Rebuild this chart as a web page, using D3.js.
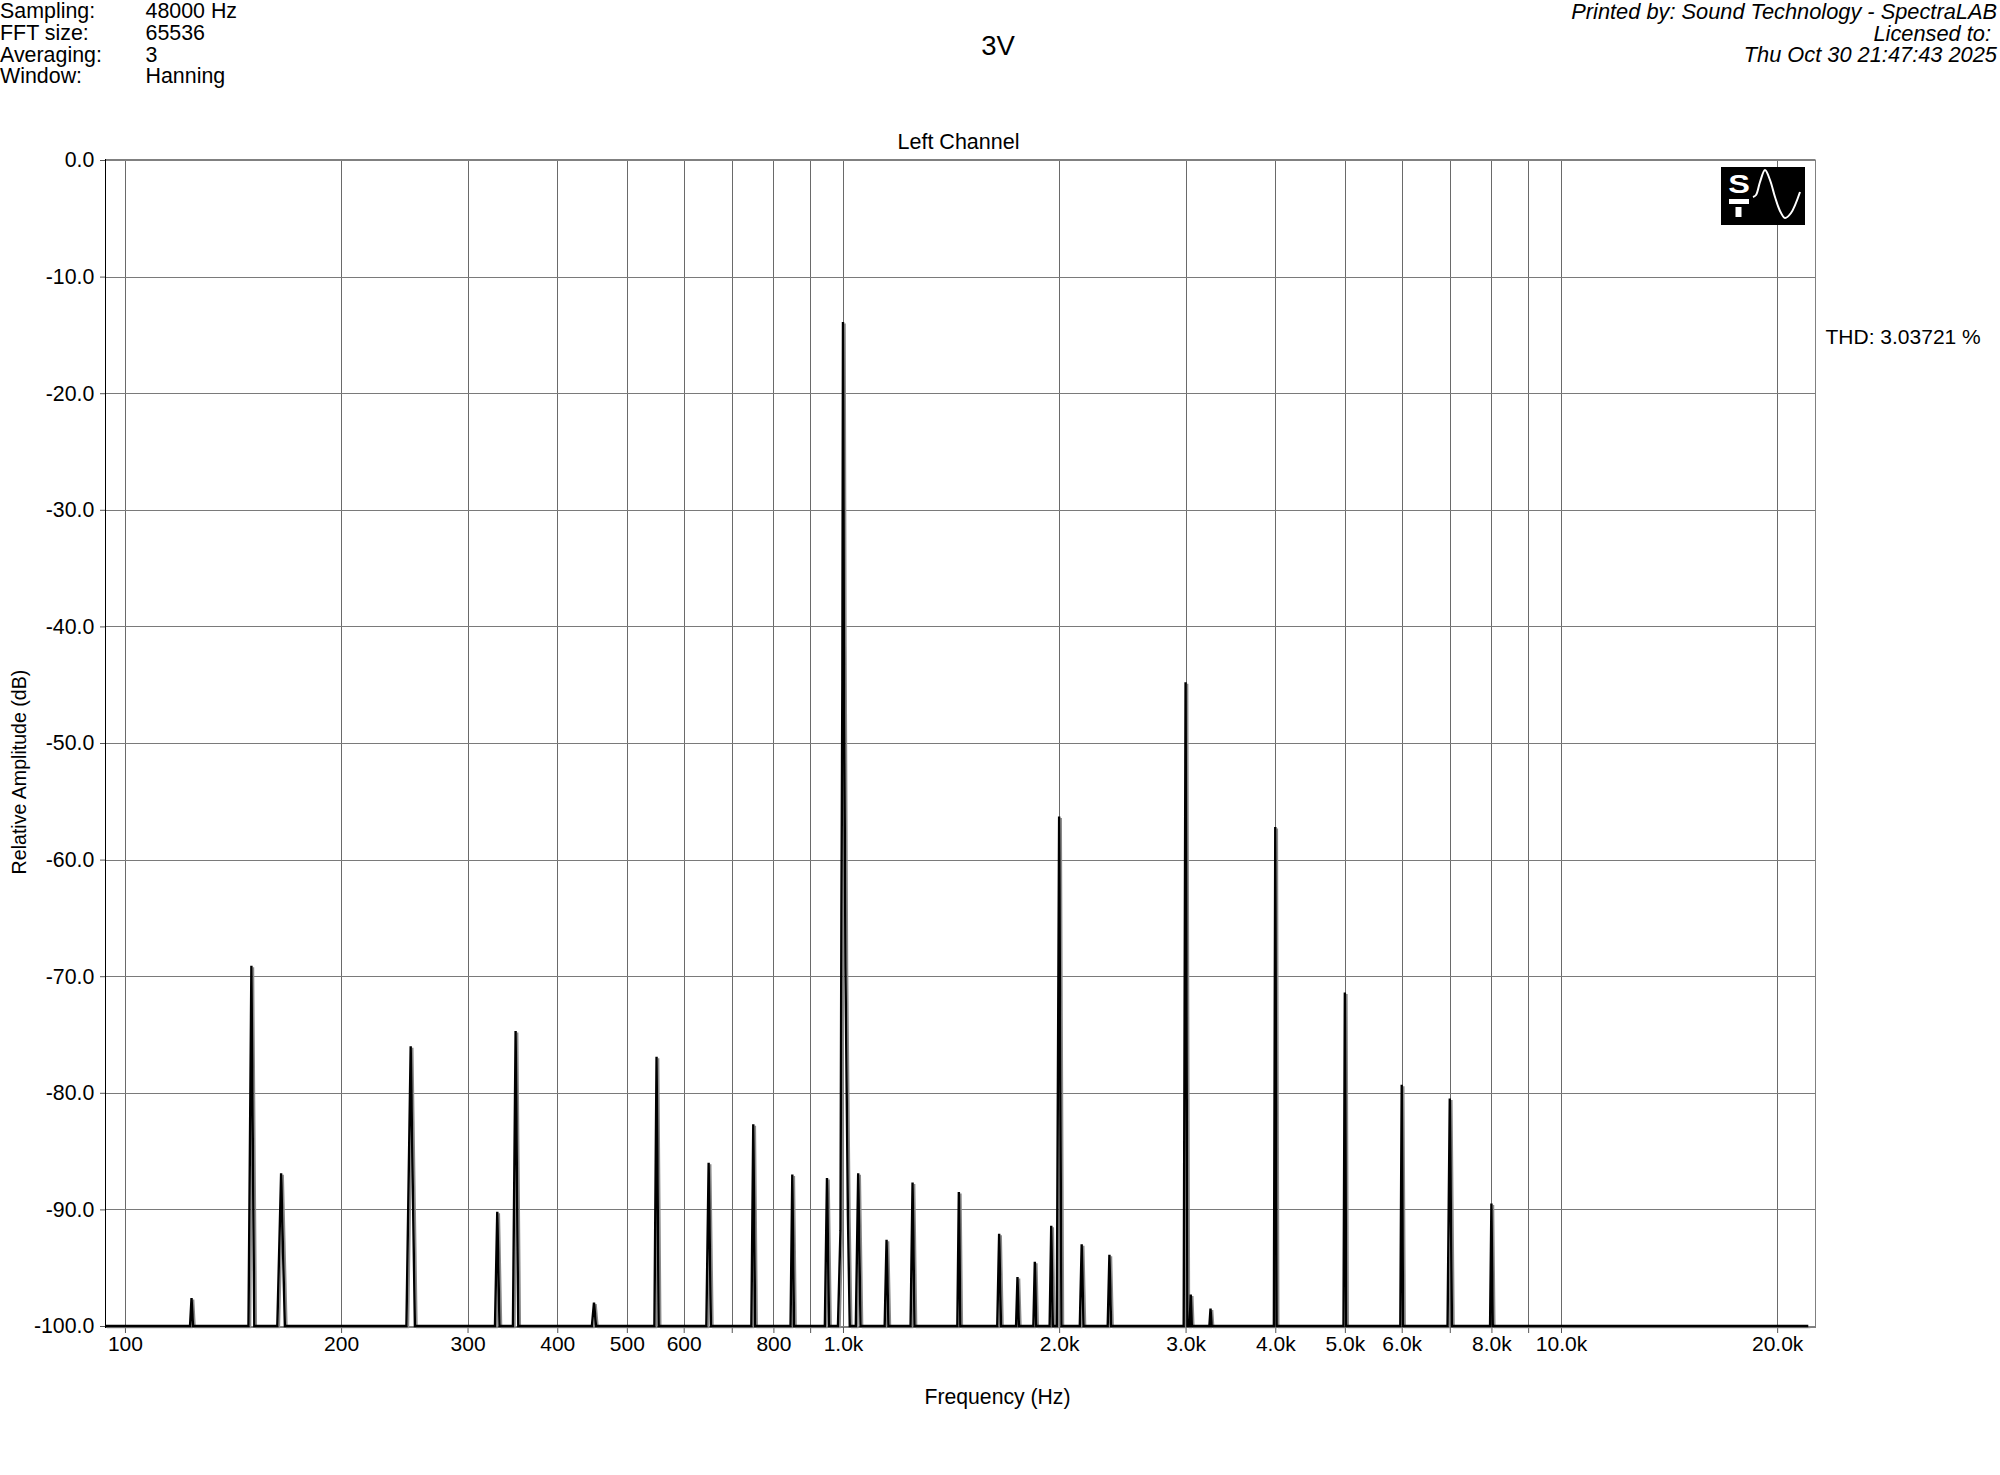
<!DOCTYPE html>
<html>
<head>
<meta charset="utf-8">
<script src="https://cdn.jsdelivr.net/npm/d3@7"></script>
<style>
  html, body { margin: 0; padding: 0; background: #fff; }
  svg { display: block; font-family: "Liberation Sans", Arial, sans-serif; }
</style>
</head>
<body>
<svg id="chart" width="2000" height="1475"></svg>
<script>
// ----------------------
// data
// ----------------------
const infoLabels = ["Sampling:", "FFT size:", "Averaging:", "Window:"];
const infoValues = ["48000 Hz", "65536", "3", "Hanning"];
const printedLines = ["Printed by: Sound Technology - SpectraLAB", "Licensed to:", "Thu Oct 30 21:47:43 2025"];

// spurs / harmonics: centre frequency (Hz), level (dB), half width of the skirt (Hz)
const peakHz        = [123.8, 150, 165, 250, 330, 350, 450, 550, 650, 750, 850, 950,
                       1050, 1150, 1250, 1450, 1650, 1750, 1850, 1950, 2000, 2150, 2350,
                       3000, 3050, 3250, 4000, 5000, 6000, 7000, 8000];
const peakDb        = [-97.6, -69.1, -86.9, -76.0, -90.2, -74.7, -98.0, -76.9, -86.0, -82.7, -87.0, -87.3,
                       -86.9, -92.6, -87.7, -88.5, -92.1, -95.8, -94.5, -91.4, -56.3, -93.0, -93.9,
                       -44.8, -97.3, -98.5, -57.2, -71.4, -79.3, -80.5, -89.5];
const peakHalfWidth = [0.6, 1.4, 2.0, 3.4, 2.4, 3.0, 3.0, 3.8, 4.8, 4.6, 4.8, 6.5,
                       8, 7, 8, 7, 10, 8, 8.5, 10, 15, 13, 13,
                       18, 11, 12, 18, 22, 27, 50, 35];

// fundamental 1 kHz with its window skirt
const fundHz = [984, 992, 995, 998, 1000, 1003, 1008, 1012, 1016, 1022];
const fundDb = [-100, -91.8, -64.8, -44.7, -13.9, -41.6, -69.3, -80.0, -90.6, -100];

const floorDb = -100;
const traceStartHz = 93.8;
const traceEndHz = 22100;

// axes
const gridHz = [100, 200, 300, 400, 500, 600, 700, 800, 900,
                1000, 2000, 3000, 4000, 5000, 6000, 7000, 8000, 9000, 10000, 20000];
const labelHz = { 100: "100", 200: "200", 300: "300", 400: "400", 500: "500", 600: "600", 800: "800",
                  1000: "1.0k", 2000: "2.0k", 3000: "3.0k", 4000: "4.0k", 5000: "5.0k", 6000: "6.0k",
                  8000: "8.0k", 10000: "10.0k", 20000: "20.0k" };
const dbTicks = [0, -10, -20, -30, -40, -50, -60, -70, -80, -90, -100];

// ----------------------
// layout
// ----------------------
const svg = d3.select("#chart");
const plot = { left: 105, right: 1815.5, top: 160, bottom: 1326 };

const x = d3.scaleLog().domain([93.8, 22617]).range([plot.left, plot.right]);
const y = d3.scaleLinear().domain([-100, 0]).range([plot.bottom, plot.top]);

svg.append("rect").attr("width", 2000).attr("height", 1475).attr("fill", "#fff");

// gridlines
svg.append("g").selectAll("line.vgrid")
  .data(gridHz)
  .join("line")
  .attr("x1", d => Math.round(x(d)) + 0.5).attr("x2", d => Math.round(x(d)) + 0.5)
  .attr("y1", plot.top).attr("y2", plot.bottom)
  .attr("stroke", "#6a6a6a").attr("stroke-width", 1);

svg.append("g").selectAll("line.hgrid")
  .data(dbTicks.filter(d => d !== 0 && d !== -100))
  .join("line")
  .attr("x1", plot.left).attr("x2", plot.right)
  .attr("y1", d => Math.round(y(d)) + 0.5).attr("y2", d => Math.round(y(d)) + 0.5)
  .attr("stroke", "#7a7a7a").attr("stroke-width", 1.2);

// frame
svg.append("line").attr("x1", plot.left).attr("x2", plot.right).attr("y1", plot.top).attr("y2", plot.top)
  .attr("stroke", "#808080").attr("stroke-width", 2);
svg.append("line").attr("x1", plot.left).attr("x2", plot.right).attr("y1", plot.bottom + 1).attr("y2", plot.bottom + 1)
  .attr("stroke", "#808080").attr("stroke-width", 2);
svg.append("line").attr("x1", plot.right).attr("x2", plot.right).attr("y1", plot.top).attr("y2", plot.bottom + 2)
  .attr("stroke", "#808080").attr("stroke-width", 1);
svg.append("line").attr("x1", plot.left + 0.5).attr("x2", plot.left + 0.5).attr("y1", plot.top - 1).attr("y2", plot.bottom + 2)
  .attr("stroke", "#000").attr("stroke-width", 1);

// axes (ticks + labels only)
const xAxis = d3.axisBottom(x)
  .tickValues(gridHz)
  .tickFormat(d => labelHz[d] || "")
  .tickSize(6).tickSizeOuter(0).tickPadding(3.5);
const xAxisG = svg.append("g").attr("transform", `translate(0,${plot.bottom + 1})`).call(xAxis);
xAxisG.select(".domain").remove();
xAxisG.selectAll("line").attr("stroke", "#555");
xAxisG.selectAll("text").attr("font-size", 21).attr("fill", "#000")
  .attr("font-family", "Liberation Sans, Arial, sans-serif");

const yAxis = d3.axisLeft(y)
  .tickValues(dbTicks)
  .tickFormat(d => d.toFixed(1))
  .tickSize(5).tickSizeOuter(0).tickPadding(5.7);
const yAxisG = svg.append("g").attr("transform", `translate(${plot.left},0)`).call(yAxis);
yAxisG.select(".domain").remove();
yAxisG.selectAll("line").attr("stroke", "#555");
yAxisG.selectAll("text").attr("font-size", 21.3).attr("fill", "#000")
  .attr("font-family", "Liberation Sans, Arial, sans-serif");

// ----------------------
// spectrum trace
// ----------------------
const peaks = peakHz.map((f, i) => ({ f, db: peakDb[i], w: peakHalfWidth[i] }));
peaks.push({ f: 1000, shape: fundHz.map((h, i) => [h, fundDb[i]]) });
peaks.sort((a, b) => d3.ascending(a.f, b.f));

const tracePts = [[traceStartHz, floorDb]];
peaks.forEach(p => {
  if (p.shape) {
    p.shape.forEach(pt => tracePts.push(pt));
  } else {
    tracePts.push([p.f - p.w, floorDb], [p.f, p.db], [p.f + p.w, floorDb]);
  }
});
tracePts.push([traceEndHz, floorDb]);

const traceLine = d3.line().x(d => x(d[0])).y(d => y(d[1]));

// grey shadow like the GIF print, then the black trace
svg.append("path")
  .datum(tracePts)
  .attr("d", traceLine)
  .attr("transform", "translate(2,1.5)")
  .attr("fill", "none")
  .attr("stroke", "#8a8a8a")
  .attr("stroke-width", 1.6);

svg.append("path")
  .datum(tracePts)
  .attr("d", traceLine)
  .attr("fill", "none")
  .attr("stroke", "#000")
  .attr("stroke-width", 2.4);

// ----------------------
// logo (S/T + sine)
// ----------------------
const logo = svg.append("g");
logo.append("rect").attr("x", 1721).attr("y", 167).attr("width", 84).attr("height", 58).attr("fill", "#000");
logo.append("text").attr("x", 1739).attr("y", 193.5).attr("text-anchor", "middle")
  .attr("font-size", 25).attr("font-weight", "bold").attr("fill", "#fff")
  .attr("transform", "translate(1739,0) scale(1.3,1) translate(-1739,0)")
  .text("S");
logo.append("rect").attr("x", 1729).attr("y", 199).attr("width", 20).attr("height", 5).attr("fill", "#fff");
logo.append("rect").attr("x", 1735.5).attr("y", 207).attr("width", 6).attr("height", 10).attr("fill", "#fff");
const wavePts = [[1753, 197], [1756, 195], [1760, 182], [1765, 170], [1770, 180], [1775, 197], [1780, 211], [1785, 218], [1791, 213], [1800, 192]];
logo.append("path")
  .attr("d", d3.line().curve(d3.curveCatmullRom)(wavePts))
  .attr("fill", "none").attr("stroke", "#fff").attr("stroke-width", 2);

// ----------------------
// texts
// ----------------------
const infoBase = [17.8, 39.6, 61.6, 83.4];
svg.append("g").selectAll("text")
  .data(infoLabels)
  .join("text")
  .attr("x", 0).attr("y", (d, i) => infoBase[i])
  .attr("font-size", 21.4)
  .text(d => d);
svg.append("g").selectAll("text")
  .data(infoValues)
  .join("text")
  .attr("x", 145.5).attr("y", (d, i) => infoBase[i])
  .attr("font-size", 21.4)
  .text(d => d);

const printedBase = [19, 40.5, 61.7];
const printedRight = [1997, 1991, 1997];
svg.append("g").selectAll("text")
  .data(printedLines)
  .join("text")
  .attr("x", (d, i) => printedRight[i]).attr("y", (d, i) => printedBase[i])
  .attr("text-anchor", "end")
  .attr("font-size", 21.8)
  .attr("font-style", "italic")
  .text(d => d);

svg.append("text")
  .attr("x", 998).attr("y", 55)
  .attr("text-anchor", "middle")
  .attr("font-size", 27.5)
  .text("3V");

svg.append("text")
  .attr("x", 958.5).attr("y", 148.5)
  .attr("text-anchor", "middle")
  .attr("font-size", 21.5)
  .text("Left Channel");

svg.append("text")
  .attr("x", 997.5).attr("y", 1403.5)
  .attr("text-anchor", "middle")
  .attr("font-size", 21.2)
  .text("Frequency (Hz)");

svg.append("text")
  .attr("transform", "translate(26,772) rotate(-90)")
  .attr("text-anchor", "middle")
  .attr("font-size", 19.6)
  .text("Relative Amplitude (dB)");

svg.append("text")
  .attr("x", 1825.5).attr("y", 343.5)
  .attr("font-size", 21)
  .text("THD: 3.03721 %");
</script>
</body>
</html>
